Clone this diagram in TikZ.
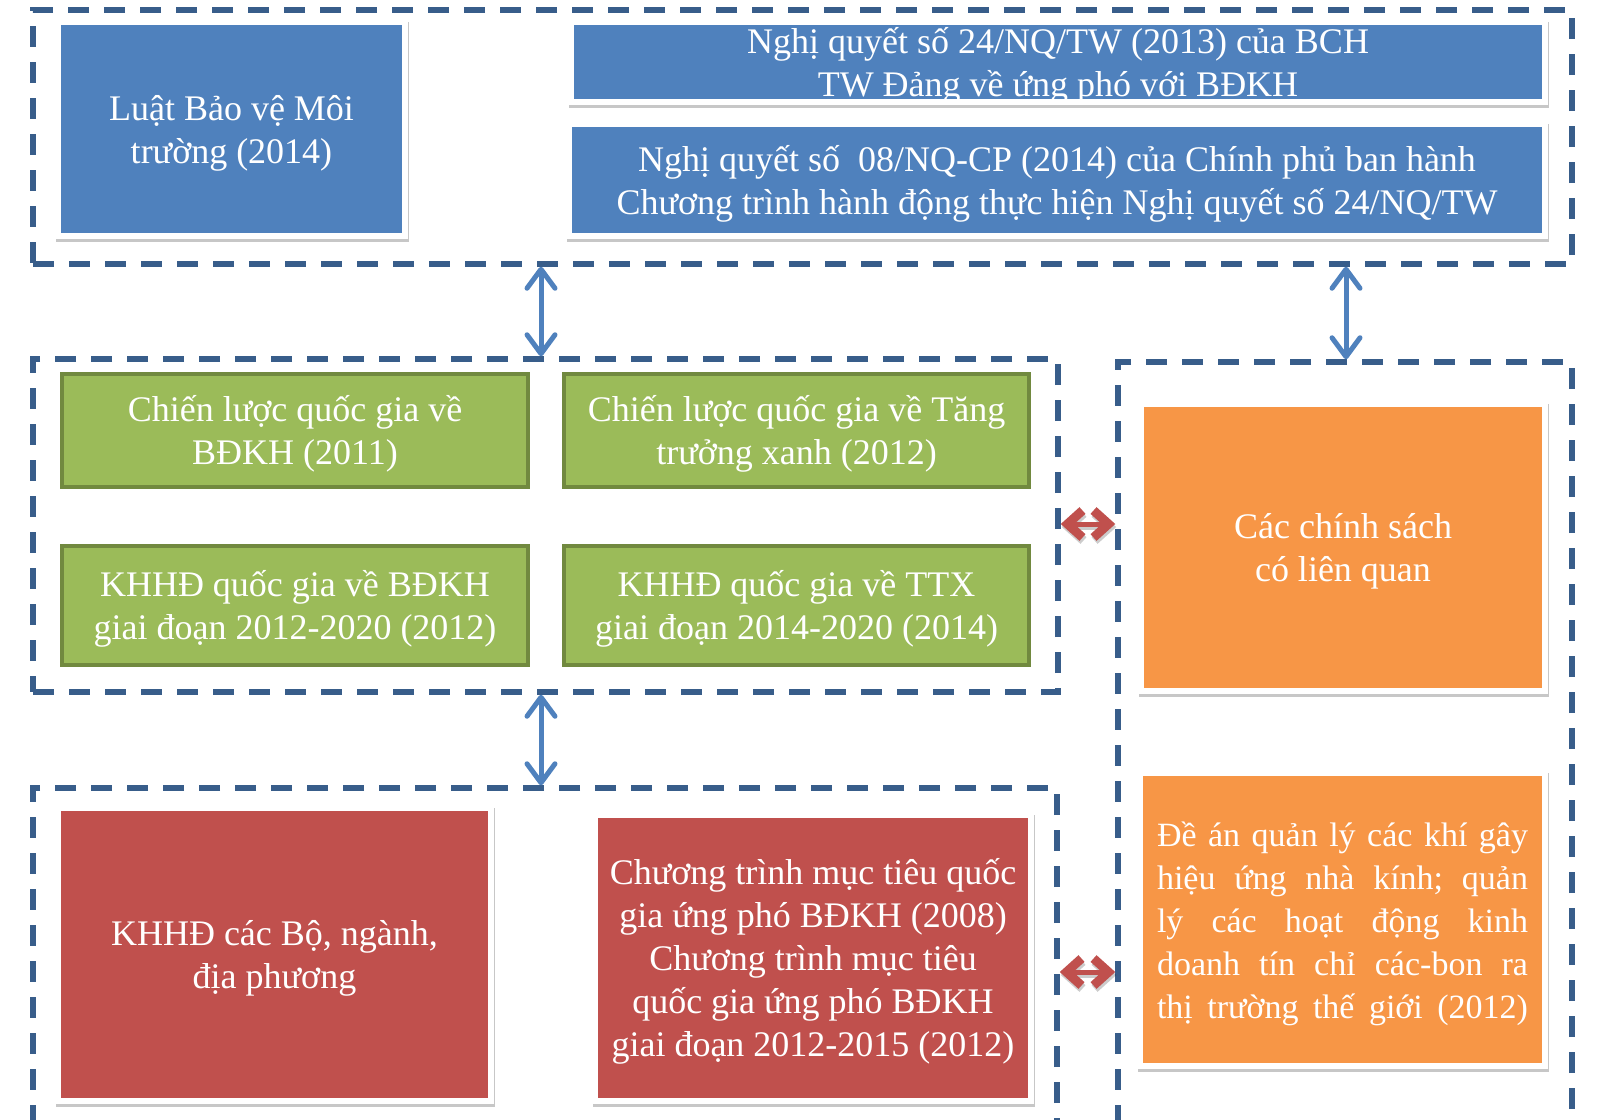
\documentclass[tikz,border=0pt]{standalone}
\usepackage{fontspec}
\setmainfont{Liberation Serif}
\usetikzlibrary{shadows,arrows.meta}
\definecolor{cblue}{HTML}{4F81BD}
\definecolor{cgreen}{HTML}{9BBB59}
\definecolor{cgreenb}{HTML}{71893F}
\definecolor{corange}{HTML}{F79646}
\definecolor{cred}{HTML}{C0504D}
\definecolor{cdash}{HTML}{385D8A}
\newcommand\tbeg{\rule{0pt}{50pt}}
\newcommand\tend{\rule[-25pt]{0pt}{25pt}}
\newcommand\jl[1]{\makebox[371pt][l]{#1}}
\begin{document}
\begin{tikzpicture}[x=1pt,y=-1pt,
  grp/.style={draw=cdash, line width=5.5pt, dash pattern=on 21pt off 15pt, inner sep=0pt, rectangle},
  frame/.style={fill=white, inner sep=0pt, drop shadow={shadow xshift=1pt, shadow yshift=-3pt, opacity=0.22, fill=black}},
  cbox/.style={inner sep=0pt, text=white, align=center, font=\fontsize{36}{43}\selectfont},
  txt/.style={inner sep=0pt, text=white, align=center, font=\fontsize{36}{43}\selectfont},
  gbox/.style={cbox, fill=cgreen, draw=cgreenb, line width=4pt},
  barrow/.style={draw=cblue, line width=5pt, {Straight Barb[length=19pt,width=28pt,round]}-{Straight Barb[length=19pt,width=28pt,round]}},
  rtip/.tip={Straight Barb[length=15pt,width=27pt,line width=9pt]},
  rarrow/.style={draw=cred, line width=5pt, miter limit=10, rtip-rtip},
  rshadow/.style={draw=black, opacity=0.2, line width=5pt, miter limit=10, rtip-rtip, transform canvas={xshift=1pt,yshift=-3pt}}
]
\useasboundingbox (0,0) rectangle (1602,1119);

% dashed groups
\node[grp, minimum width=1539pt, minimum height=254pt] (topgrp) at (802.5,137) {};
\node[grp, minimum width=1025pt, minimum height=333pt] (midgrp) at (545.5,525.5) {};
\node[grp, minimum width=1024pt, minimum height=335pt] (botgrp) at (545,955.5) {};
\node[grp, minimum width=454pt, minimum height=761pt] (rightgrp) at (1345,742.5) {};

% top blue boxes
\node[frame, minimum width=353pt, minimum height=220pt] (luatF) at (231.5,129) {};
\node[cbox, fill=cblue, minimum width=341pt, minimum height=208pt] (luat) at (luatF) {\tbeg Luật Bảo vệ Môi\\trường (2014)\tend};

\node[frame, minimum width=980pt, minimum height=86pt] (nq24F) at (1058,62) {};
\node[cbox, fill=cblue, minimum width=968pt, minimum height=74pt] (nq24) at (nq24F) {};
\node[txt] (nq24t) at (nq24.center) {\tbeg Nghị quyết số 24/NQ/TW (2013) của BCH\\TW Đảng về ứng phó với BĐKH\tend};

\node[frame, minimum width=982pt, minimum height=118pt] (nq08F) at (1057,180) {};
\node[cbox, fill=cblue, minimum width=970pt, minimum height=106pt] (nq08) at (nq08F) {};
\node[txt] (nq08t) at (nq08.center) {\tbeg Nghị quyết số~ 08/NQ-CP (2014) của Chính phủ ban hành\\Chương trình hành động thực hiện Nghị quyết số 24/NQ/TW\tend};

% green boxes
\node[gbox, minimum width=466pt, minimum height=113pt] (cl1) at (295,430.5) {};
\node[txt] (cl1t) at (cl1.center) {\tbeg Chiến lược quốc gia về\\BĐKH (2011)\tend};
\node[gbox, minimum width=465pt, minimum height=113pt] (cl2) at (796.5,430.5) {};
\node[txt] (cl2t) at (cl2.center) {\tbeg Chiến lược quốc gia về Tăng\\trưởng xanh (2012)\tend};
\node[gbox, minimum width=466pt, minimum height=119pt] (kh1) at (295,605.5) {};
\node[txt] (kh1t) at (kh1.center) {\tbeg KHHĐ quốc gia về BĐKH\\giai đoạn 2012-2020 (2012)\tend};
\node[gbox, minimum width=465pt, minimum height=119pt] (kh2) at (796.5,605.5) {};
\node[txt] (kh2t) at (kh2.center) {\tbeg KHHĐ quốc gia về TTX\\giai đoạn 2014-2020 (2014)\tend};

% orange boxes
\node[frame, minimum width=410pt, minimum height=293pt] (cs1F) at (1343,547.5) {};
\node[cbox, fill=corange, minimum width=398pt, minimum height=281pt] (cs1) at (cs1F) {\tbeg Các chính sách\\có liên quan\tend};

\node[frame, minimum width=411pt, minimum height=299pt] (daF) at (1342.5,919.5) {};
\node[cbox, fill=corange, minimum width=399pt, minimum height=287pt, align=left, font=\fontsize{34}{43}\selectfont] (da) at (daF) {%
\jl{\tbeg Đề\hfill án\hfill quản\hfill lý\hfill các\hfill khí\hfill gây}\\
\jl{hiệu\hfill ứng\hfill nhà\hfill kính;\hfill quản}\\
\jl{lý\hfill các\hfill hoạt\hfill động\hfill kinh}\\
\jl{doanh\hfill tín\hfill chỉ\hfill các-bon\hfill ra}\\
\jl{thị\hfill trường\hfill thế\hfill giới\hfill (2012)\tend}};

% red boxes
\node[frame, minimum width=439pt, minimum height=299pt] (khbF) at (274.5,954.5) {};
\node[cbox, fill=cred, minimum width=427pt, minimum height=287pt] (khb) at (khbF) {\tbeg KHHĐ các Bộ, ngành,\\địa phương\tend};

\node[frame, minimum width=442pt, minimum height=292pt] (ctF) at (813,958) {};
\node[cbox, fill=cred, minimum width=430pt, minimum height=280pt] (ct) at (ctF) {\tbeg Chương trình mục tiêu quốc\\gia ứng phó BĐKH (2008)\\Chương trình mục tiêu\\quốc gia ứng phó BĐKH\\giai đoạn 2012-2015 (2012)\tend};

% connectors
\coordinate (ax1) at (541,0);
\coordinate (ax2) at (1346,0);
\coordinate (ry1) at (0,524);
\coordinate (ry2) at (0,972);
\draw[barrow] (topgrp.south -| ax1) -- (midgrp.north -| ax1);
\draw[barrow] (topgrp.south -| ax2) -- (rightgrp.north -| ax2);
\draw[barrow] (midgrp.south -| ax1) -- (botgrp.north -| ax1);

\draw[rshadow] (midgrp.east |- ry1) -- (rightgrp.west |- ry1);
\draw[rarrow] (midgrp.east |- ry1) -- (rightgrp.west |- ry1);
\draw[rshadow] (botgrp.east |- ry2) -- (rightgrp.west |- ry2);
\draw[rarrow] (botgrp.east |- ry2) -- (rightgrp.west |- ry2);
\end{tikzpicture}
\end{document}
